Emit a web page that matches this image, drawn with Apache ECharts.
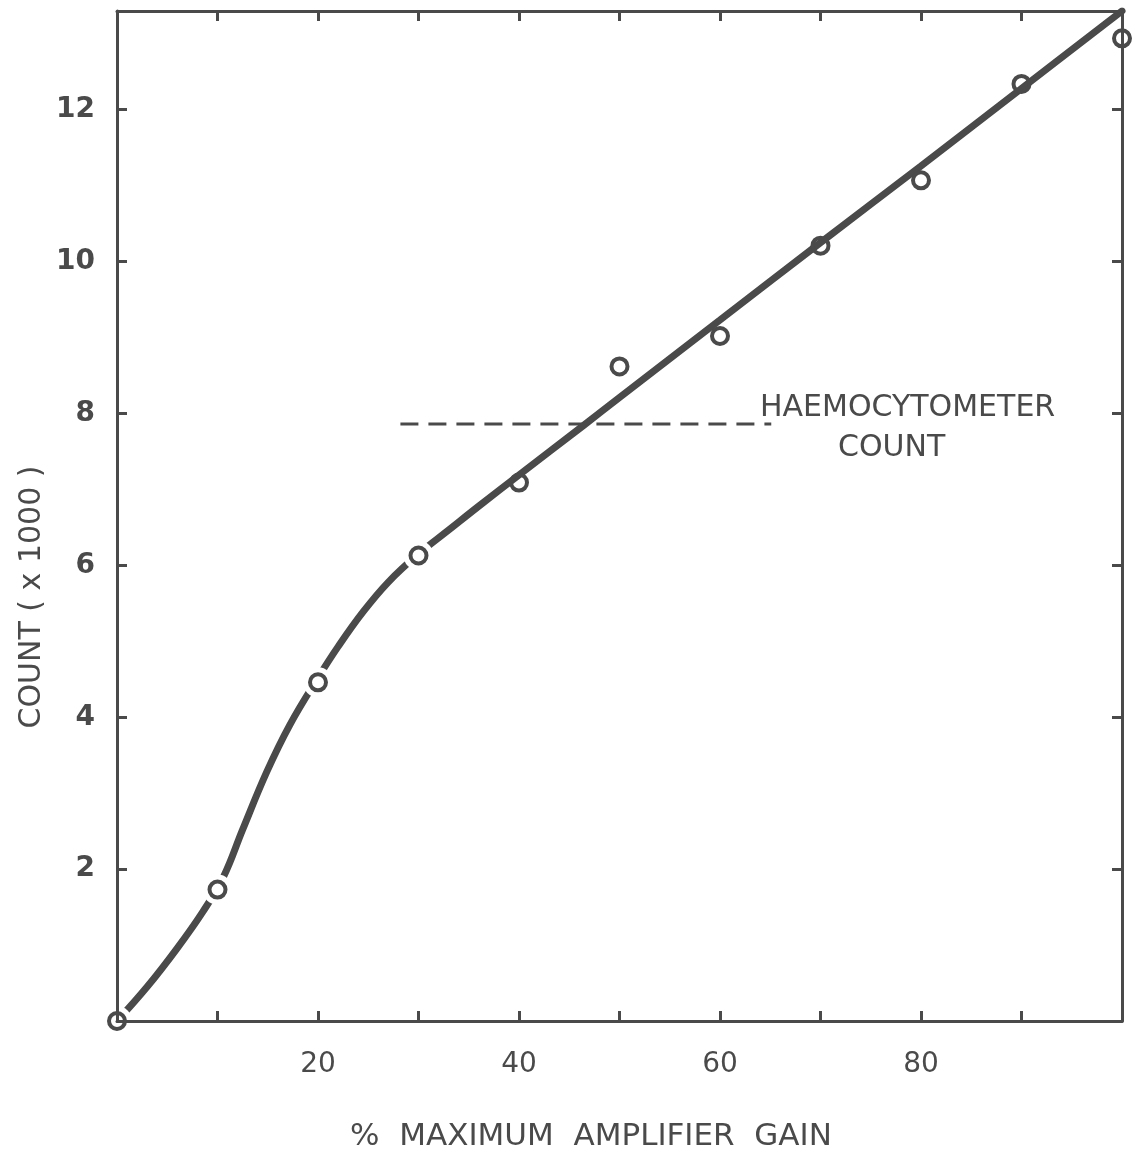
<!DOCTYPE html>
<html><head><meta charset="utf-8">
<script src="https://cdn.jsdelivr.net/npm/echarts@6/dist/echarts.min.js"></script>
<style>html,body{margin:0;padding:0;background:#fff}#c{width:1143px;height:1158px}</style>
</head><body><div id="c"></div>
<script>
// measured points (% max amplifier gain, count x1000)
const gainPct = [0, 10, 20, 30, 40, 50, 60, 70, 80, 90, 100];
const countK = [0, 1.73, 4.46, 6.13, 7.09, 8.62, 9.02, 10.21, 11.07, 12.34, 12.94];
// hand-drawn fitted curve
const curveGain = [0, 3, 6, 8.5, 10.6, 12.5, 14.9, 17.2, 20, 22, 24.5, 27, 30, 33, 36, 40, 46.4, 50, 60, 70, 80, 90, 100];
const curveCount = [0, 0.45, 0.96, 1.43, 1.9, 2.52, 3.28, 3.9, 4.52, 4.93, 5.39, 5.78, 6.15, 6.465, 6.78, 7.19, 7.84, 8.21, 9.23, 10.25, 11.26, 12.28, 13.3];
// haemocytometer reference count
const haemoCountK = 7.86;
const haemoGainRange = [28.2, 65.1];
// tick labels
const xTickLabels = [20, 40, 60, 80];
const yTickLabels = [2, 4, 6, 8, 10, 12];
// points where the curve is interrupted around the circle
const gapAt = [0, 10, 20, 30];

const C = '#4a4a4a';
const FF = '"DejaVu Sans", sans-serif';
const pairs = (xs, ys) => xs.map((x, i) => [x, ys[i]]);

const chart = echarts.init(document.getElementById('c'), null, {renderer: 'canvas'});

function xAxisDef(pos, labels) {
  return {
    type: 'value', min: 0, max: 100, interval: 10, position: pos, z: 5,
    axisLine: {show: true, onZero: false, lineStyle: {color: C, width: 3}},
    axisTick: {show: true, inside: true, length: 10, lineStyle: {color: C, width: 3}},
    axisLabel: labels ? {
      show: true, margin: 30, color: C, fontSize: 28, fontFamily: FF,
      formatter: v => xTickLabels.includes(v) ? String(v) : ''
    } : {show: false},
    splitLine: {show: false}
  };
}
function yAxisDef(pos, labels) {
  return {
    type: 'value', min: 0, max: 13.3, interval: 2, position: pos, z: 5,
    axisLine: {show: true, onZero: false, lineStyle: {color: C, width: 3}},
    axisTick: {show: true, inside: true, length: 10, lineStyle: {color: C, width: 3}},
    axisLabel: labels ? {
      show: true, margin: 22, color: C, fontSize: 28, fontWeight: 'bold', fontFamily: FF,
      showMaxLabel: false,
      formatter: v => yTickLabels.includes(v) ? String(v) : ''
    } : {show: false},
    splitLine: {show: false}
  };
}

chart.setOption({
  animation: false,
  backgroundColor: '#fff',
  grid: {left: 117, right: 21, top: 11, bottom: 137, containLabel: false},
  xAxis: [xAxisDef('bottom', true), xAxisDef('top', false)],
  yAxis: [yAxisDef('left', true), yAxisDef('right', false)],
  series: [
    {
      type: 'line', xAxisIndex: 0, yAxisIndex: 0, z: 2,
      data: pairs(curveGain, curveCount),
      smooth: 0.4, showSymbol: false, symbol: 'none',
      lineStyle: {color: C, width: 7, cap: 'round', opacity: 1}
    },
    {
      type: 'line', xAxisIndex: 0, yAxisIndex: 0, z: 2,
      data: haemoGainRange.map(g => [g, haemoCountK]),
      showSymbol: false, symbol: 'none',
      lineStyle: {color: C, width: 3, type: [18, 10], opacity: 1}
    },
    {
      type: 'scatter', xAxisIndex: 0, yAxisIndex: 0, z: 3,
      data: pairs(gainPct, countK),
      symbol: 'circle',
      symbolSize: (v) => gapAt.includes(v[0]) ? 30 : 0,
      itemStyle: {color: '#fff', borderWidth: 0, opacity: 1}
    },
    {
      type: 'scatter', xAxisIndex: 0, yAxisIndex: 0, z: 6,
      data: pairs(gainPct, countK),
      symbol: 'circle', symbolSize: 16,
      itemStyle: {color: 'rgba(0,0,0,0)', borderColor: C, borderWidth: 4, opacity: 1}
    }
  ],
  graphic: [
    {type: 'text', x: 32, y: 597, rotation: Math.PI / 2, z: 10,
     style: {text: 'COUNT ( x 1000 )', fill: C, font: '30px ' + FF, textAlign: 'center', textVerticalAlign: 'middle'}},
    {type: 'text', x: 591, y: 1137, z: 10,
     style: {text: '%  MAXIMUM  AMPLIFIER  GAIN', fill: C, font: '31px ' + FF, textAlign: 'center', textVerticalAlign: 'middle'}},
    {type: 'text', x: 760, y: 408, z: 10,
     style: {text: 'HAEMOCYTOMETER', fill: C, font: '30px ' + FF, textAlign: 'left', textVerticalAlign: 'middle'}},
    {type: 'text', x: 838, y: 448, z: 10,
     style: {text: 'COUNT', fill: C, font: '30px ' + FF, textAlign: 'left', textVerticalAlign: 'middle'}}
  ]
});
</script>
</body></html>
